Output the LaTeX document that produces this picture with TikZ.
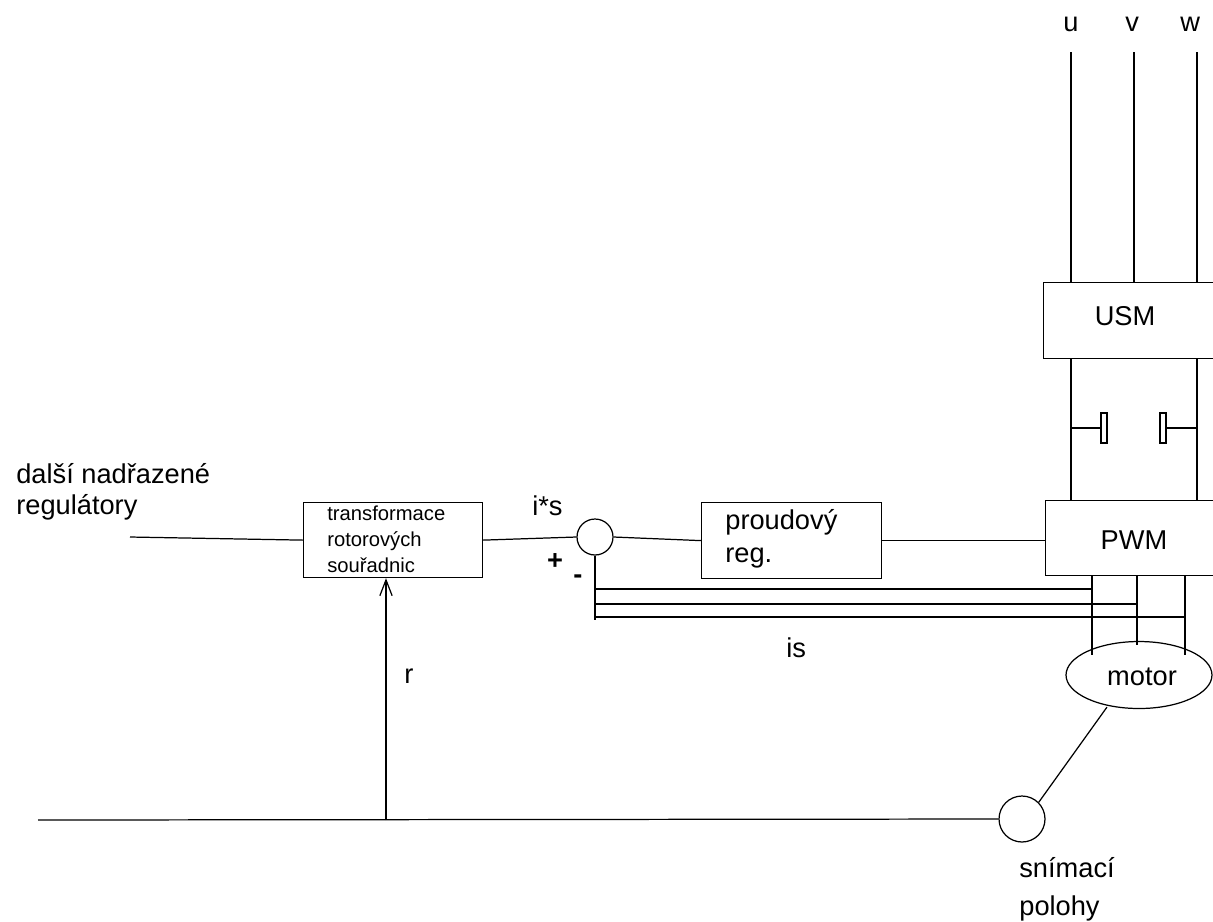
\documentclass[tikz,border=0pt]{standalone}
\usepackage{fontspec}
\setmainfont{Liberation Sans}
\usetikzlibrary{arrows.meta,calc,positioning,shapes.geometric}

\begin{document}
\begin{tikzpicture}[
  x=0.02cm, y=-0.02cm,
  block/.style={draw, line width=0.7pt, inner sep=0pt, anchor=north west},
  label/.style={inner sep=0pt, font=\fontsize{15.5}{19}\selectfont, align=left},
  wire/.style={line width=0.7pt},
  >={Straight Barb[length=9pt,width=7pt]}
]
  \useasboundingbox (0,0) rectangle (1213,921);
  \clip (0,0) rectangle (1213,921);

  % Blocks
  \node[block, minimum width=3.58cm, minimum height=1.5cm] (trans) at (303,502) {};
  \node[block, minimum width=3.6cm, minimum height=1.52cm] (reg) at (701,502) {};
  \node[block, minimum width=3.5cm, minimum height=1.52cm] (USM) at (1043,282) {};
  \node[block, minimum width=3.5cm, minimum height=1.5cm] (PWM) at (1045,500) {};

  % Summing point, motor, sensor
  \node[draw, circle, wire, minimum size=0.72cm, inner sep=0pt] (sum) at (595,537) {};
  \node[draw, ellipse, wire, minimum width=2.92cm, minimum height=1.34cm, inner sep=0pt] (motor) at (1139,675) {};
  \node[draw, circle, wire, minimum size=0.92cm, inner sep=0pt] (sensor) at (1022,819) {};

  % Capacitors
  \node[draw, wire, minimum width=0.12cm, minimum height=0.6cm, inner sep=0pt] (capL) at (1104,428) {};
  \node[draw, wire, minimum width=0.12cm, minimum height=0.6cm, inner sep=0pt] (capR) at (1163,428) {};

  % Texts
  \node[label, anchor=west] (tu) at (1063,24) {u};
  \node[label, anchor=west] (tv) at (1125,24) {v};
  \node[label, anchor=west] (tw) at (1180,24) {w};
  \node[label, anchor=center] (tUSM) at (1125,316) {USM};
  \node[label, anchor=center] (tPWM) at (1134,540) {PWM};
  \node[label, anchor=west] (treg) at (725,522) {proudový};
  \node[label, anchor=west] (treg2) at (725,558) {reg.};
  \node[label, anchor=center] (tmotor) at (1142,677) {motor};
  \node[label, anchor=west] at (16,474) {další nadřazené};
  \node[label, anchor=west] at (16,507) {regulátory};
  \node[inner sep=0pt, font=\fontsize{11.5}{14}\selectfont, anchor=west] at (327,513) {transformace};
  \node[inner sep=0pt, font=\fontsize{11.5}{14}\selectfont, anchor=west] at (327,541) {rotorových};
  \node[inner sep=0pt, font=\fontsize{11.5}{14}\selectfont, anchor=west] at (327,565) {souřadnic};
  \node[label, anchor=west] at (532,506) {i*s};
  \node[label, anchor=center] at (555,561) {\textbf{+}};
  \node[label, anchor=center] at (578,579) {\textbf{-}};
  \node[label, anchor=west] at (404,676) {r};
  \node[label, anchor=west] at (786,648) {is};
  \node[label, anchor=west] at (1019,868) {snímací};
  \node[label, anchor=west] at (1019,908) {polohy};

  % Free ends
  \coordinate (u) at (1071,52);
  \coordinate (v) at (1134,52);
  \coordinate (w) at (1197,52);
  \coordinate (in) at (130,537);
  \coordinate (busL) at (38,820);
  \coordinate (r) at (386,820);
  \coordinate (fbend) at (595,620);
  \coordinate (a) at (1092,575);
  \coordinate (b) at (1137,575);
  \coordinate (c) at (1185,575);

  % Supply
  \draw[wire] (u) -- (u |- USM.north);
  \draw[wire] (v) -- (v |- USM.north);
  \draw[wire] (w) -- (w |- USM.north);
  \draw[wire] (u |- USM.south) -- (u |- PWM.north);
  \draw[wire] (w |- USM.south) -- (w |- PWM.north);
  \draw[wire] (u |- capL.west) -- (capL.west);
  \draw[wire] (capR.east) -- (w |- capR.east);

  % Signal path
  \draw[wire] (in) -- (trans.west);
  \draw[wire] (trans.east) -- (sum.west);
  \draw[wire] (sum.east) -- (reg.west);
  \draw[wire] (reg.east) -- (reg.east -| PWM.west);

  % Phases and current feedback
  \draw[wire] (a) -- ++(0,80);
  \draw[wire] (b) -- ++(0,70);
  \draw[wire] (c) -- ++(0,80);
  \draw[wire] (sum.south) -- (fbend);
  \draw[wire] (sum.south |- 0,589) -- (a |- 0,589);
  \draw[wire] (sum.south |- 0,604) -- (b |- 0,604);
  \draw[wire] (sum.south |- 0,617) -- (c |- 0,617);

  % Position feedback
  \draw[wire] (motor.south west) ++(20,8) -- (sensor.north east);
  \draw[wire] (busL) -- (sensor.west);
  \draw[wire, ->] (r) -- (trans.south -| r);
\end{tikzpicture}
\end{document}
